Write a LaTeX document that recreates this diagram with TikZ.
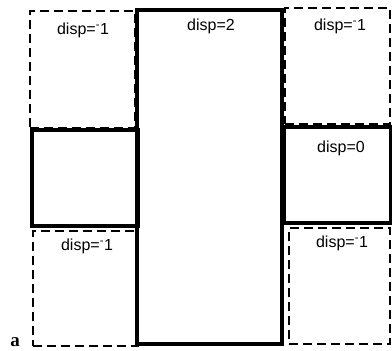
\documentclass[tikz,border=0pt]{standalone}
\usepackage{fontspec}
\setmainfont{Liberation Sans}
\newfontfamily\serifbold{Liberation Serif}
\begin{document}
\begin{tikzpicture}[x=1pt,y=-1pt,
  solidbox/.style={draw=black,line width=3.4pt,inner sep=0pt,outer sep=0pt},
  dashbox/.style={draw=black,line width=2.2pt,dash pattern=on 9pt off 5pt,inner sep=0pt,outer sep=0pt},
  lbl/.style={font=\fontsize{16}{16}\selectfont,anchor=north,inner sep=0pt}]
\useasboundingbox (0,0) rectangle (392,351);
\newcommand{\mneg}{\textsuperscript{-}}
% left column
\node[dashbox,minimum width=105pt,minimum height=117pt,anchor=north west] (lt) at (30,11) {};
\node[solidbox,minimum width=106pt,minimum height=96pt,anchor=north west] (lm) at (32,130) {};
\node[dashbox,minimum width=105pt,minimum height=115pt,anchor=north west] (lb) at (33,231) {};
% center
\node[solidbox,minimum width=145pt,minimum height=334pt,anchor=north west] (c) at (137,10) {};
% right column
\node[dashbox,minimum width=105pt,minimum height=116pt,anchor=north west] (rt) at (285,8) {};
\node[solidbox,minimum width=107pt,minimum height=96pt,anchor=north west] (rm) at (284,127) {};
\node[dashbox,minimum width=101pt,minimum height=116pt,anchor=north west] (rb) at (289,228) {};
% labels
\node[lbl] (tlt) at (83,23) {disp=\mneg1};
\node[lbl] (tc) at (211,19) {disp=2};
\node[lbl] (trt) at (340,19) {disp=\mneg1};
\node[lbl] (trm) at (341,141) {disp=0};
\node[lbl] (tlb) at (87,239) {disp=\mneg1};
\node[lbl] (trb) at (342,236) {disp=\mneg1};
\node[font=\serifbold\bfseries\fontsize{19}{19}\selectfont,anchor=base,inner sep=0pt] (a) at (15,346) {a};
\end{tikzpicture}
\end{document}
